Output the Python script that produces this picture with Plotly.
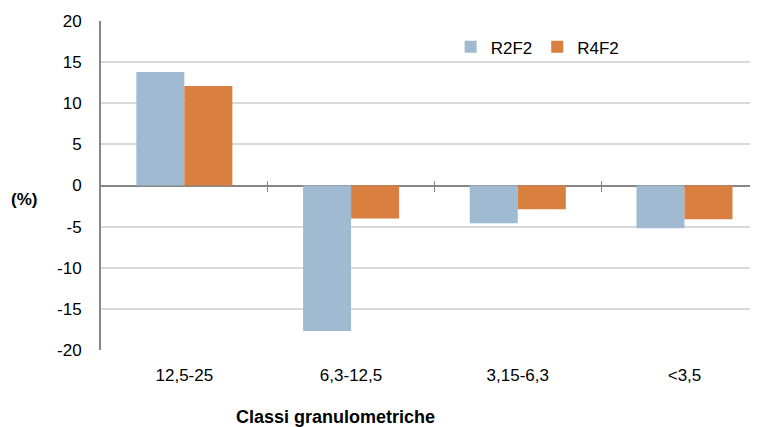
import plotly.graph_objects as go

categories = ["12,5-25", "6,3-12,5", "3,15-6,3", "<3,5"]
r2f2 = [13.8, -17.7, -4.6, -5.2]
r4f2 = [12.1, -4.0, -2.9, -4.1]
boundaries = [0.5, 1.5, 2.5]
y_ticks = [-20, -15, -10, -5, 0, 5, 10, 15, 20]
y_ticktext = ["-20", "-15", "-10", "-5", "0", "5", "10", "15", "20"]

FONT = "Liberation Sans, Arial, sans-serif"
xr = [-0.5, 3.435]

fig = go.Figure()
fig.add_trace(go.Bar(x=categories, y=r2f2, name="R2F2", marker_color="#A0BBD1",
                     marker_line_width=0))
fig.add_trace(go.Bar(x=categories, y=r4f2, name="R4F2", marker_color="#D97F3F",
                     marker_line_width=0))
# empty helper traces so the overlay axes (category boundary ticks) are drawn
fig.add_trace(go.Scatter(x=[None], y=[None], xaxis="x2", showlegend=False, hoverinfo="skip"))
fig.add_trace(go.Scatter(x=[None], y=[None], xaxis="x3", showlegend=False, hoverinfo="skip"))

fig.update_layout(
    width=750, height=419,
    margin=dict(l=93, r=1, t=13, b=77),
    paper_bgcolor="white", plot_bgcolor="white",
    font=dict(family=FONT, size=17, color="#000000"),
    barmode="group", bargap=0.424, bargroupgap=0,
    showlegend=True,
    legend=dict(orientation="h", x=0.533, y=0.92, xanchor="left", yanchor="middle",
                font=dict(size=17), bgcolor="rgba(0,0,0,0)", traceorder="normal"),
    xaxis=dict(range=xr, showgrid=False, showline=False, zeroline=False,
               ticks="", ticklabelstandoff=13, tickfont=dict(size=17)),
    xaxis2=dict(overlaying="x", anchor="free", position=0.5, range=xr,
                tickmode="array", tickvals=boundaries, showticklabels=False,
                ticks="outside", ticklen=5, tickwidth=1, tickcolor="#868686",
                showgrid=False, zeroline=False, showline=False),
    xaxis3=dict(overlaying="x", anchor="free", position=0.5, side="top", range=xr,
                tickmode="array", tickvals=boundaries, showticklabels=False,
                ticks="outside", ticklen=5, tickwidth=1, tickcolor="#868686",
                showgrid=False, zeroline=False, showline=False),
    yaxis=dict(range=[-20, 20], tickmode="array", tickvals=y_ticks, ticktext=y_ticktext,
               showgrid=True, gridcolor="#D9D9D9", gridwidth=1.5,
               zeroline=True, zerolinecolor="#868686", zerolinewidth=2,
               showline=True, linecolor="#868686", linewidth=2,
               ticks="outside", ticklen=14, tickcolor="rgba(0,0,0,0)",
               tickfont=dict(size=17)),
    annotations=[
        dict(text="<b>(%)</b>", xref="paper", yref="paper", x=-0.117, y=0.456,
             xanchor="center", yanchor="middle", showarrow=False, font=dict(size=17)),
        dict(text="<b>Classi granulometriche</b>", xref="paper", yref="paper",
             x=0.357, y=-0.204, xanchor="center", yanchor="middle", showarrow=False,
             font=dict(size=18)),
    ],
)

fig.write_html("out.html")
